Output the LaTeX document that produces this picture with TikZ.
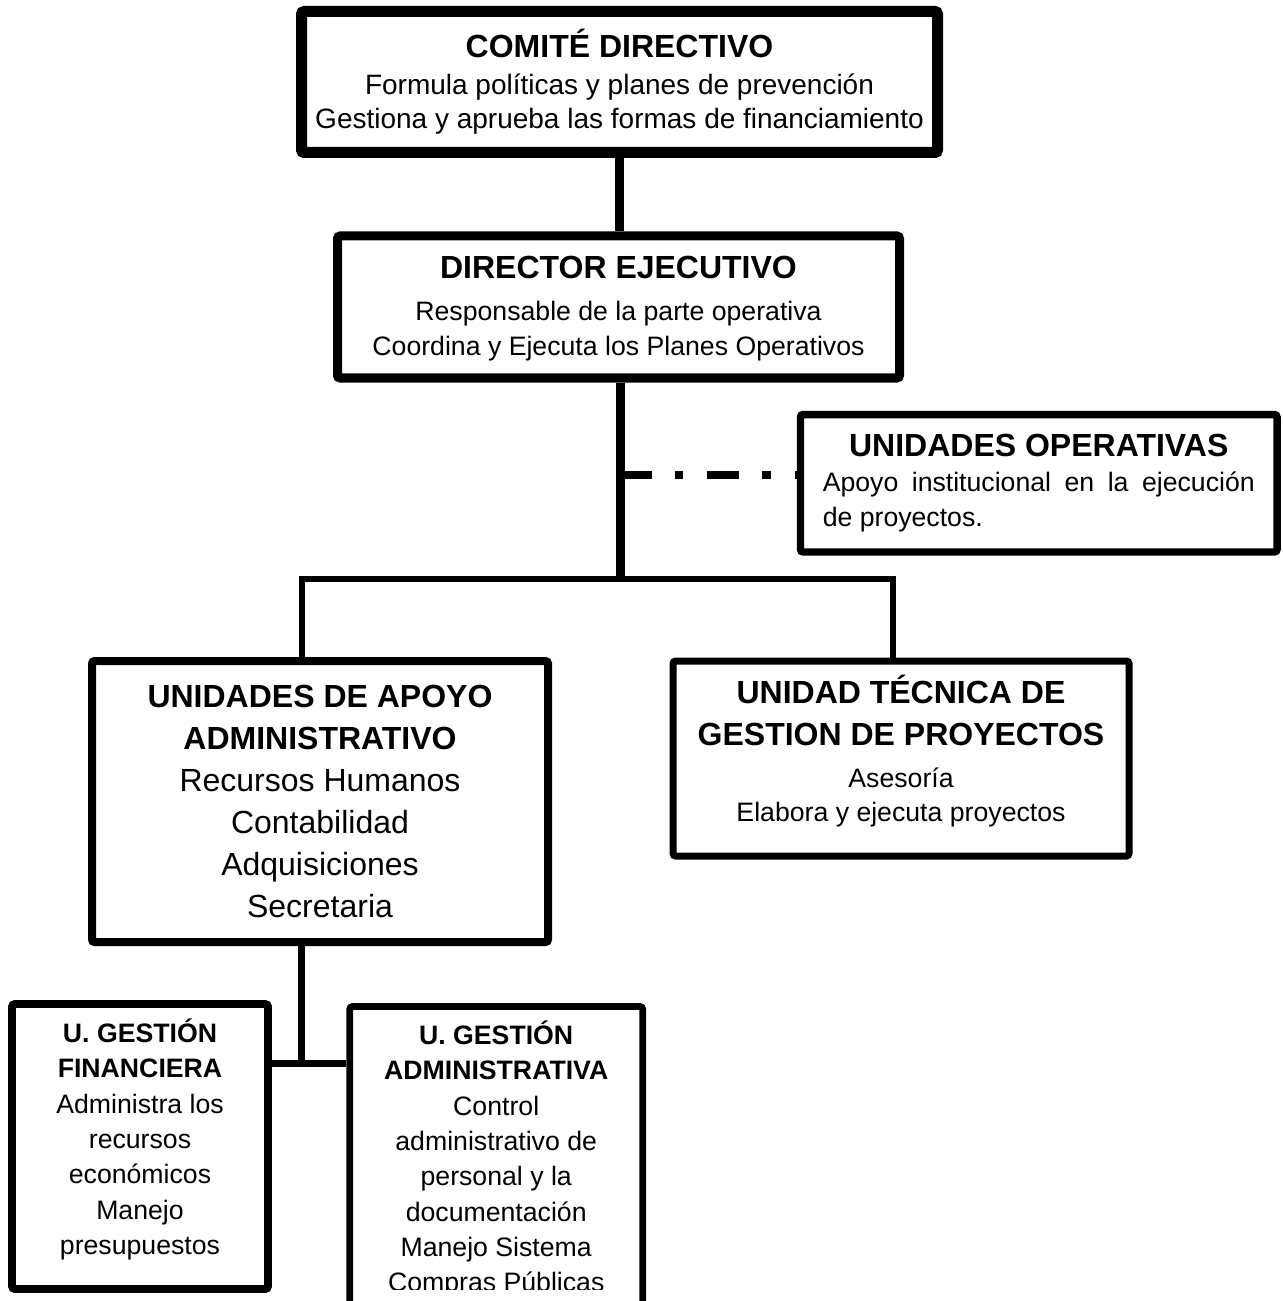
\documentclass[tikz,border=0pt]{standalone}
\usepackage{fontspec}
\setmainfont{Liberation Sans}
\newcommand{\headtxt}[1]{{\bfseries\fontsize{24}{31.5}\selectfont #1}}

\begin{document}
\begin{tikzpicture}[x=0.75pt, y=-0.75pt,
	box/.style={draw, rectangle, rounded corners=2pt, inner sep=0pt, align=center},
	wire/.style={draw, line cap=butt}]
			\useasboundingbox (0,0) rectangle (1282,1301);

			% Top of the chart
			\node[box, line width=8.25pt, minimum width=477pt, minimum height=105.75pt, font=\fontsize{21}{25.5}\selectfont] (comite) at (619.5,82)
				{\headtxt{COMITÉ DIRECTIVO}\\[2.25pt] Formula políticas y planes de prevención\\ Gestiona y aprueba las formas de financiamiento};
			\node[box, line width=6.75pt, minimum width=421.5pt, minimum height=106.5pt, font=\fontsize{20}{26.25}\selectfont] (director) at (618.5,307)
				{\headtxt{DIRECTOR EJECUTIVO}\\[5.25pt] Responsable de la parte operativa\\ Coordina y Ejecuta los Planes Operativos\\[-24.5pt]\mbox{}};

			% Side unit (dash-dot link)
			\node[box, line width=5.6pt, minimum width=357.4pt, minimum height=103.1pt, text width=324pt, align=justify, font=\fontsize{20}{26.25}\selectfont] (operativas) at (1038.75,483.25)
				{{\centering\bfseries\fontsize{24}{26.25}\selectfont UNIDADES OPERATIVAS\par}Apoyo institucional en la ejecución\linebreak de proyectos.};

			% Second level
			\node[box, line width=6pt, minimum width=342pt, minimum height=210.75pt, font=\fontsize{24}{31.5}\selectfont] (apoyo) at (320,801.5)
				{\headtxt{UNIDADES DE APOYO}\\ \headtxt{ADMINISTRATIVO}\\ Recursos Humanos\\ Contabilidad\\ Adquisiciones\\ Secretaria};
			\node[box, line width=5.25pt, minimum width=342pt, minimum height=146.25pt, font=\fontsize{20}{25.5}\selectfont] (tecnica) at (901,758.5)
				{\headtxt{UNIDAD TÉCNICA DE}\\[6pt] \headtxt{GESTION DE PROYECTOS}\\[6pt] Asesoría\\ Elabora y ejecuta proyectos\\[-10.8pt]\mbox{}};

			% Bottom units
			\node[box, line width=5.75pt, minimum width=192pt, minimum height=213.75pt, font=\fontsize{20}{26.5}\selectfont] (financiera) at (140,1146.5)
				{\textbf{U. GESTIÓN}\\ \textbf{FINANCIERA}\\ Administra los\\ recursos\\ económicos\\ Manejo\\ presupuestos\\[-11.8pt]\mbox{}};
			\node[box, line width=5pt, minimum width=219.75pt, minimum height=229.1pt, font=\fontsize{20}{26.5}\selectfont] (admin) at (496.2,1159.25)
				{\textbf{U. GESTIÓN}\\ \textbf{ADMINISTRATIVA}\\ Control\\ administrativo de\\ personal y la\\ documentación\\ Manejo Sistema\\ Compras Públicas};
			\fill[white] (353.5,1290) rectangle (639,1305); % text cut at the bottom

			% Connectors
			\coordinate (hub) at (620,579);
			\coordinate (tap) at (620,475);
			\coordinate (lefttap) at (301.7,579);
			\coordinate (righttap) at (893,579);
			\coordinate (split) at (301.7,1063);
			\draw[wire, line width=6.75pt] (comite.south) -- (comite.south |- director.north);
			\draw[wire, line width=6.75pt] (director.south -| hub) -- (hub);
			\draw[wire, line width=6pt, dash pattern=on 24pt off 17.25pt on 6.25pt off 18pt] (tap) -- (tap -| operativas.west);
			\draw[wire, line width=4.75pt, line join=miter] (lefttap |- apoyo.north) -- (lefttap) -- (righttap) -- (righttap |- tecnica.north);
			\draw[wire, line width=5pt] (apoyo.south -| split) -- (split);
			\draw[wire, line width=5.25pt] (financiera.east |- split) -- (admin.west |- split);
		\end{tikzpicture}
\end{document}
